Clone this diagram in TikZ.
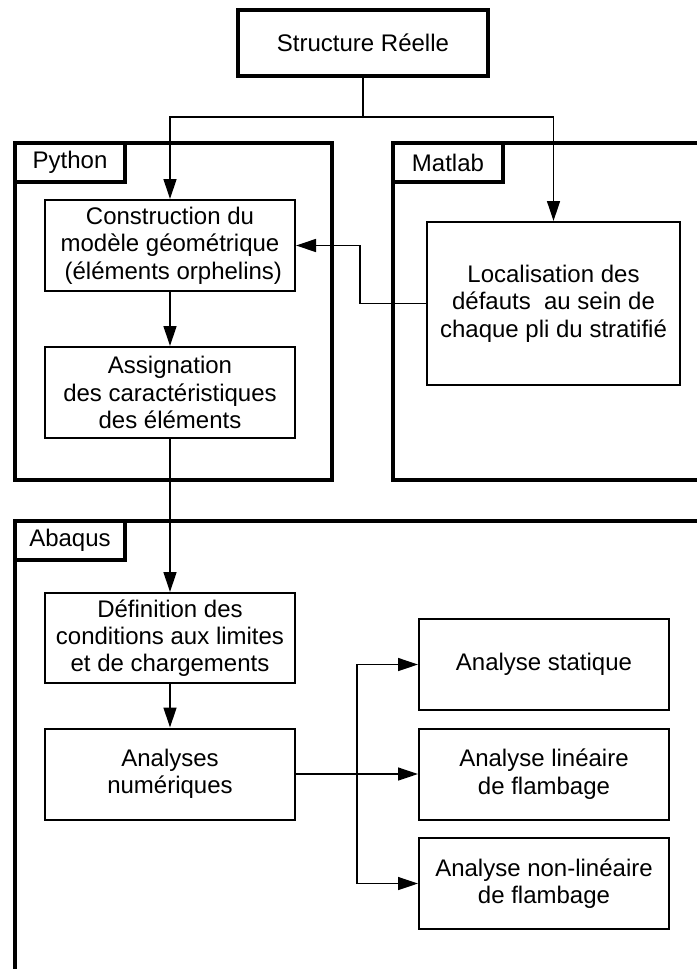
\documentclass[tikz,border=0pt]{standalone}
\usepackage{fontspec}
\setmainfont{Liberation Sans}
\usetikzlibrary{arrows.meta}

\newcommand{\police}{\fontsize{24pt}{27.3pt}\selectfont}
\tikzstyle{etape}=[draw, rectangle, line width=2pt, minimum width=250pt, minimum height=91pt, align=center, inner sep=0pt, font=\police]
\tikzstyle{cadre}=[draw, line width=4pt]
\tikzstyle{etiquette}=[draw, rectangle, line width=4pt, minimum width=110pt, minimum height=39pt, anchor=north west, inner sep=0pt, outer sep=0pt, font=\police]
\tikzstyle{fleche}=[line width=1.3pt, -{Triangle[length=20pt,width=13pt]}]

\begin{document}
\begin{tikzpicture}[x=1pt, y=-1pt]
            \useasboundingbox (0,0) rectangle (696,969);

            % Cadres des logiciels
            \draw[cadre] (15,143) rectangle (332,480);
            \draw[cadre] (393,143) rectangle (720,480);
            \draw[cadre] (15,521) rectangle (720,1000);
            \node[etiquette] (python) at (15,143) {Python};
            \node[etiquette] (matlab) at (393,143) {Matlab};
            \node[etiquette] (abaqus) at (15,521) {Abaqus};

            % Définition des étapes
            \node[etape, line width=3.5pt, minimum height=66pt] (structure) at (363,43) {Structure Réelle};
            \node[etape] (construction) at (170,245.5) {Construction du\\modèle géométrique\\\ (éléments orphelins)};
            \node[etape] (assignation) at (170,392.5) {Assignation\\des caractéristiques\\des éléments};
            \node[etape, minimum width=253pt, minimum height=163pt] (localisation) at (553.5,303.5) {Localisation des\\défauts\ \ au sein de\\chaque pli du stratifié};
            \node[etape, minimum height=90pt] (definition) at (170,638) {Définition des\\conditions aux limites\\et de chargements};
            \node[etape] (analyses) at (170,774) {Analyses\\numériques};
            \node[etape] (statique) at (544,664.5) {Analyse statique};
            \node[etape] (lineaire) at (544,774) {Analyse linéaire\\de flambage};
            \node[etape] (nonlineaire) at (544,883.5) {Analyse non-linéaire\\de flambage};

            % Liaisons entre les étapes
            \coordinate (fourche) at (363,117);
            \coordinate (branche) at (357,774);
            \draw[line width=1.3pt] (structure.south) -- (fourche);
            \draw[fleche] (fourche) -| (construction.north);
            \draw[fleche] (fourche) -| (localisation.north);
            \draw[fleche] (localisation.west) -- ++(-66,0) |- (construction.east);
            \draw[fleche] (construction) -- (assignation);
            \draw[fleche] (assignation) -- (definition);
            \draw[fleche] (definition) -- (analyses);
            \draw[line width=2.5pt] (analyses.east) -- (branche);
            \draw[fleche] (branche) |- (statique.west);
            \draw[fleche] (branche) -- (lineaire.west);
            \draw[fleche] (branche) |- (nonlineaire.west);
        \end{tikzpicture}
\end{document}
